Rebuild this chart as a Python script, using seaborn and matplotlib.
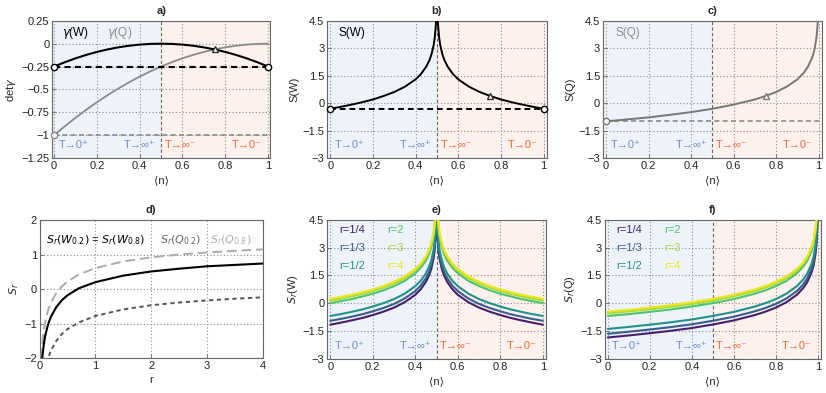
import numpy as np
import pandas as pd
import matplotlib
matplotlib.use("Agg")
import matplotlib.pyplot as plt
import seaborn as sns

# -------------------------
# Data
# -------------------------

# panel a) det gamma vs <n>
n_a = [0, .05, .1, .15, .2, .25, .3, .35, .4, .45, .5,
       .55, .6, .65, .7, .75, .8, .85, .9, .95, 1]
det_gamma_w = [-0.25, -0.2025, -0.16, -0.1225, -0.09, -0.0625, -0.04, -0.0225, -0.01, -0.0025, 0,
               -0.0025, -0.01, -0.0225, -0.04, -0.0625, -0.09, -0.1225, -0.16, -0.2025, -0.25]
det_gamma_q = [-1, -0.9025, -0.81, -0.7225, -0.64, -0.5625, -0.49, -0.4225, -0.36, -0.3025, -0.25,
               -0.2025, -0.16, -0.1225, -0.09, -0.0625, -0.04, -0.0225, -0.01, -0.0025, 0]
gamma_w_floor = -0.25
gamma_q_floor = -1.0
cross_n, cross_gamma = 0.75, -0.0625

# panels b) and e): W entropies (symmetric about 0.5)
n_w = [0, .05, .1, .15, .2, .25, .3, .35, .4, .425, .45, .465, .475, .485, .49, .495, .4975, .499,
       .501, .5025, .505, .51, .515, .525, .535, .55, .575, .6, .65, .7, .75, .8, .85, .9, .95, 1]
s_w = [-0.31, -0.20, -0.08, 0.05, 0.20, 0.39, 0.61, 0.90, 1.30, 1.59, 2.00, 2.35, 2.69, 3.20, 3.61, 4.30, 4.99, 5.91,
       5.91, 4.99, 4.30, 3.61, 3.20, 2.69, 2.35, 2.00, 1.59, 1.30, 0.90, 0.61, 0.39, 0.20, 0.05, -0.08, -0.20, -0.31]
s_w_floor = -0.31
tri_n, tri_s = 0.75, 0.39

sr_w_r14 = [-1.16, -1.05, -0.93, -0.80, -0.64, -0.46, -0.24, 0.05, 0.45, 0.74, 1.15, 1.50, 1.84, 2.35, 2.76, 3.45, 4.14, 5.06,
            5.06, 4.14, 3.45, 2.76, 2.35, 1.84, 1.50, 1.15, 0.74, 0.45, 0.05, -0.24, -0.46, -0.64, -0.80, -0.93, -1.05, -1.16]
sr_w_r13 = [-0.95, -0.85, -0.73, -0.60, -0.44, -0.26, -0.04, 0.25, 0.65, 0.94, 1.35, 1.70, 2.04, 2.55, 2.96, 3.65, 4.34, 5.26,
            5.26, 4.34, 3.65, 2.96, 2.55, 2.04, 1.70, 1.35, 0.94, 0.65, 0.25, -0.04, -0.26, -0.44, -0.60, -0.73, -0.85, -0.95]
sr_w_r12 = [-0.69, -0.59, -0.47, -0.34, -0.18, 0.00, 0.22, 0.51, 0.92, 1.20, 1.61, 1.97, 2.30, 2.81, 3.22, 3.91, 4.61, 5.52,
            5.52, 4.61, 3.91, 3.22, 2.81, 2.30, 1.97, 1.61, 1.20, 0.92, 0.51, 0.22, 0.00, -0.18, -0.34, -0.47, -0.59, -0.69]
sr_w_r2 = [0.00, 0.11, 0.22, 0.36, 0.51, 0.69, 0.92, 1.20, 1.61, 1.90, 2.30, 2.66, 3.00, 3.51, 3.91, 4.61, 5.30, 6.21,
           6.21, 5.30, 4.61, 3.91, 3.51, 3.00, 2.66, 2.30, 1.90, 1.61, 1.20, 0.92, 0.69, 0.51, 0.36, 0.22, 0.11, 0.00]
sr_w_r3 = [0.14, 0.25, 0.37, 0.50, 0.65, 0.84, 1.06, 1.35, 1.75, 2.04, 2.45, 2.80, 3.14, 3.65, 4.06, 4.75, 5.44, 6.36,
           6.36, 5.44, 4.75, 4.06, 3.65, 3.14, 2.80, 2.45, 2.04, 1.75, 1.35, 1.06, 0.84, 0.65, 0.50, 0.37, 0.25, 0.14]
sr_w_r4 = [0.23, 0.34, 0.45, 0.59, 0.74, 0.92, 1.15, 1.44, 1.84, 2.13, 2.53, 2.89, 3.23, 3.74, 4.14, 4.84, 5.53, 6.45,
           6.45, 5.53, 4.84, 4.14, 3.74, 3.23, 2.89, 2.53, 2.13, 1.84, 1.44, 1.15, 0.92, 0.74, 0.59, 0.45, 0.34, 0.23]

# panels c) and f): Q entropies
n_q = [0, .1, .2, .3, .4, .5, .6, .7, .75, .8, .85, .9, .93, .95, .97, .98, .99, .995, .9975, .999]
s_q = [-1.00, -0.89, -0.78, -0.64, -0.49, -0.31, -0.08, 0.20, 0.39, 0.61, 0.90, 1.30, 1.66, 2.00, 2.51, 2.91, 3.61, 4.30, 4.99, 5.91]
s_q_floor = -1.0

sr_q_r14 = [-1.85, -1.74, -1.62, -1.49, -1.34, -1.15, -0.93, -0.64, -0.46, -0.24, 0.05, 0.45, 0.81, 1.15, 1.66, 2.06, 2.76, 3.45, 4.14, 5.06]
sr_q_r13 = [-1.65, -1.54, -1.42, -1.29, -1.14, -0.95, -0.73, -0.44, -0.26, -0.04, 0.25, 0.65, 1.01, 1.35, 1.86, 2.26, 2.96, 3.65, 4.34, 5.26]
sr_q_r12 = [-1.39, -1.28, -1.16, -1.03, -0.88, -0.69, -0.47, -0.18, 0.00, 0.22, 0.51, 0.92, 1.27, 1.61, 2.12, 2.53, 3.22, 3.91, 4.61, 5.52]
sr_q_r2 = [-0.69, -0.59, -0.47, -0.34, -0.18, 0.00, 0.22, 0.51, 0.69, 0.92, 1.20, 1.61, 1.97, 2.30, 2.81, 3.22, 3.91, 4.61, 5.30, 6.21]
sr_q_r3 = [-0.55, -0.44, -0.33, -0.19, -0.04, 0.14, 0.37, 0.65, 0.84, 1.06, 1.35, 1.75, 2.11, 2.45, 2.96, 3.36, 4.06, 4.75, 5.44, 6.36]
sr_q_r4 = [-0.46, -0.36, -0.24, -0.11, 0.05, 0.23, 0.45, 0.74, 0.92, 1.15, 1.44, 1.84, 2.20, 2.53, 3.04, 3.45, 4.14, 4.84, 5.53, 6.45]

r_labels = ["r=1/4", "r=1/3", "r=1/2", "r=2", "r=3", "r=4"]

# panel d) S_r vs r
r_d = [0.03, 0.05, 0.075, 0.1, 0.15, 0.2, 0.3, 0.4, 0.5, 0.7, 1.0, 1.5, 2, 2.5, 3, 3.5, 4]
sr_w02 = [-2.41, -1.95, -1.60, -1.35, -1.03, -0.81, -0.52, -0.32, -0.18, 0.02, 0.20, 0.39, 0.51, 0.59, 0.66, 0.70, 0.74]
sr_q02 = [-3.39, -2.93, -2.58, -2.33, -2.01, -1.79, -1.50, -1.30, -1.16, -0.97, -0.78, -0.59, -0.47, -0.39, -0.33, -0.28, -0.24]
sr_q08 = [-2.01, -1.54, -1.19, -0.95, -0.62, -0.40, -0.11, 0.08, 0.22, 0.42, 0.61, 0.80, 0.92, 1.00, 1.06, 1.11, 1.15]

# tick labels
n_ticks = [0, 0.2, 0.4, 0.6, 0.8, 1]
n_ticklabels = ["0", "0.2", "0.4", "0.6", "0.8", "1"]
gamma_ticks = [0.25, 0, -0.25, -0.5, -0.75, -1, -1.25]
gamma_ticklabels = ["0.25", "0", "\u22120.25", "\u22120.5", "\u22120.75", "\u22121", "\u22121.25"]
s_ticks = [4.5, 3, 1.5, 0, -1.5, -3]
s_ticklabels = ["4.5", "3", "1.5", "0", "\u22121.5", "\u22123"]
r_ticks = [0, 1, 2, 3, 4]
sr_ticks = [2, 1, 0, -1, -2]
sr_ticklabels = ["2", "1", "0", "\u22121", "\u22122"]
regime_labels = ["T\u21920\u207a", "T\u2192\u221e\u207a", "T\u2192\u221e\u207b", "T\u21920\u207b"]

# -------------------------
# Style
# -------------------------

sns.set_theme(style="white")
plt.rcParams["font.family"] = ["Liberation Sans", "DejaVu Sans"]
plt.rcParams["font.size"] = 8
plt.rcParams["axes.edgecolor"] = "#666666"
plt.rcParams["axes.linewidth"] = 0.8
plt.rcParams["mathtext.fontset"] = "dejavusans"

blue_bg, orange_bg = "#eef3f9", "#fcf1ec"
blue_txt, orange_txt = "#6a8dc8", "#ee6a3c"
grey_q = "#8a8a8a"
viridis = plt.get_cmap("viridis")
r_colors = [viridis(v) for v in (0.08, 0.3, 0.5, 0.72, 0.86, 0.97)]

fig = plt.figure(figsize=(8.26, 3.93), dpi=100)
ax_a = fig.add_axes([0.063, 0.598, 0.264, 0.349])
ax_b = fig.add_axes([0.396, 0.598, 0.266, 0.349])
ax_c = fig.add_axes([0.730, 0.598, 0.265, 0.349])
ax_d = fig.add_axes([0.048, 0.089, 0.270, 0.351])
ax_e = fig.add_axes([0.396, 0.087, 0.265, 0.354])
ax_f = fig.add_axes([0.732, 0.087, 0.262, 0.354])


def style_axes(ax, title, ylabel, yticks, yticklabels, ylim, xlim=(-0.015, 1.015),
               xticks=n_ticks, xticklabels=n_ticklabels, xlabel="\u27e8n\u27e9", shade=True):
    ax.set_xlim(xlim)
    ax.set_ylim(ylim)
    ax.set_xticks(xticks)
    ax.set_xticklabels(xticklabels)
    ax.set_yticks(yticks)
    ax.set_yticklabels(yticklabels)
    ax.grid(True, ls=(0, (1, 2)), color="#8c8c8c", lw=0.8)
    ax.set_axisbelow(True)
    ax.tick_params(direction="in", length=3, width=0.6, color="#666666",
                   bottom=True, left=True, pad=2, labelsize=8, labelcolor="#222222")
    ax.set_title(title, fontweight="bold", fontsize=8, pad=5)
    ax.set_xlabel(xlabel, fontsize=8, labelpad=3)
    ax.set_ylabel(ylabel, fontsize=8, labelpad=2)
    if shade:
        ax.axvspan(xlim[0], 0.5, color=blue_bg, lw=0, zorder=0.1)
        ax.axvspan(0.5, xlim[1], color=orange_bg, lw=0, zorder=0.1)
        ax.axvline(0.5, color="#666666", ls=(0, (3, 2)), lw=0.8, zorder=1.5)
        yr = ylim[1] - ylim[0]
        yt = ylim[0] + 0.095 * yr
        for x, lab, c in zip([0.09, 0.40, 0.59, 0.90], regime_labels,
                             [blue_txt, blue_txt, orange_txt, orange_txt]):
            ax.text(x, yt, lab, color=c, ha="center", va="center", fontsize=8)


def open_marker(ax, x, y, color, marker="o"):
    ax.plot([x], [y], marker=marker, ms=4.5, mfc="white", mec=color, mew=1.0,
            ls="none", zorder=5, clip_on=False)


# a) det gamma
style_axes(ax_a, "a)", "det$\\gamma$", gamma_ticks, gamma_ticklabels, (-1.25, 0.25), xlim=(-0.01, 1.01))
ax_a.plot([n_a[0], n_a[-1]], [gamma_q_floor, gamma_q_floor], color=grey_q, ls=(0, (3, 2)), lw=1.2, zorder=2)
sns.lineplot(x=n_a, y=det_gamma_q, ax=ax_a, color=grey_q, lw=1.3, zorder=3)
sns.lineplot(x=n_a, y=det_gamma_w, ax=ax_a, color="black", lw=1.5, zorder=4)
ax_a.plot([n_a[0], n_a[-1]], [gamma_w_floor, gamma_w_floor], color="black", ls=(0, (3, 2)), lw=1.5, zorder=4)
open_marker(ax_a, n_a[0], det_gamma_w[0], "black")
open_marker(ax_a, n_a[-1], det_gamma_w[-1], "black")
open_marker(ax_a, n_a[0], det_gamma_q[0], grey_q)
open_marker(ax_a, cross_n, cross_gamma, "#333333", marker="^")
ax_a.text(0.10, 0.12, "$\\gamma$(W)", color="black", ha="center", va="center", fontsize=8.5)
ax_a.text(0.305, 0.12, "$\\gamma$(Q)", color=grey_q, ha="center", va="center", fontsize=8.5)

# b) S(W)
style_axes(ax_b, "b)", "S(W)", s_ticks, s_ticklabels, (-3, 4.5))
sns.lineplot(x=n_w, y=s_w, ax=ax_b, color="black", lw=1.4, zorder=4)
ax_b.plot([n_w[0], n_w[-1]], [s_w_floor, s_w_floor], color="black", ls=(0, (3, 2)), lw=1.4, zorder=4)
open_marker(ax_b, n_w[0], s_w[0], "black")
open_marker(ax_b, n_w[-1], s_w[-1], "black")
open_marker(ax_b, tri_n, tri_s, "#333333", marker="^")
ax_b.text(0.10, 3.84, "S(W)", color="black", ha="center", va="center", fontsize=8.5)

# c) S(Q)
style_axes(ax_c, "c)", "S(Q)", s_ticks, s_ticklabels, (-3, 4.5))
ax_c.plot([n_q[0], 1.0], [s_q_floor, s_q_floor], color=grey_q, ls=(0, (3, 2)), lw=1.2, zorder=2)
sns.lineplot(x=n_q, y=s_q, ax=ax_c, color="#777777", lw=1.4, zorder=4)
open_marker(ax_c, n_q[0], s_q[0], "#777777")
open_marker(ax_c, tri_n, tri_s, "#777777", marker="^")
ax_c.text(0.10, 3.84, "S(Q)", color=grey_q, ha="center", va="center", fontsize=8.5)

# d) S_r vs r
style_axes(ax_d, "d)", "$S_r$", sr_ticks, sr_ticklabels, (-2, 2), xlim=(0, 4),
           xticks=r_ticks, xticklabels=[str(t) for t in r_ticks], xlabel="r", shade=False)
sns.lineplot(x=r_d, y=sr_q08, ax=ax_d, color="#aaaaaa", lw=1.4, zorder=3)
ax_d.lines[-1].set_linestyle((0, (5, 2.5)))
sns.lineplot(x=r_d, y=sr_q02, ax=ax_d, color="#555555", lw=1.4, zorder=3)
ax_d.lines[-1].set_linestyle((0, (2.2, 1.8)))
sns.lineplot(x=r_d, y=sr_w02, ax=ax_d, color="black", lw=1.5, zorder=4)
ax_d.text(0.12, 1.42, "$S_r(W_{0.2})$ = $S_r(W_{0.8})$", color="black", va="center", fontsize=8)
ax_d.text(2.15, 1.42, "$S_r(Q_{0.2})$", color="#666666", va="center", fontsize=8)
ax_d.text(3.05, 1.42, "$S_r(Q_{0.8})$", color="#b0b0b0", va="center", fontsize=8)

# e) S_r(W), f) S_r(Q)
df_w = pd.concat([pd.DataFrame({"n": n_w, "S": s, "r": lab})
                  for s, lab in zip([sr_w_r14, sr_w_r13, sr_w_r12, sr_w_r2, sr_w_r3, sr_w_r4], r_labels)])
df_q = pd.concat([pd.DataFrame({"n": n_q, "S": s, "r": lab})
                  for s, lab in zip([sr_q_r14, sr_q_r13, sr_q_r12, sr_q_r2, sr_q_r3, sr_q_r4], r_labels)])

for ax, df, title, ylab in [(ax_e, df_w, "e)", "$S_r$(W)"), (ax_f, df_q, "f)", "$S_r$(Q)")]:
    style_axes(ax, title, ylab, s_ticks, s_ticklabels, (-3, 4.5))
    sns.lineplot(data=df, x="n", y="S", hue="r", hue_order=r_labels, palette=r_colors,
                 ax=ax, lw=1.5, legend=False, sort=False, zorder=4)
    ax.set_xlabel("\u27e8n\u27e9", fontsize=8, labelpad=3)
    ax.set_ylabel(ylab, fontsize=8, labelpad=2)
    for i, (lab, c) in enumerate(zip(r_labels, r_colors)):
        col, row = divmod(i, 3)
        ax.text(0.04 + 0.23 * col, 3.95 - 0.98 * row, lab, color=c, va="center", fontsize=8)

fig.savefig("out.png", dpi=100)
